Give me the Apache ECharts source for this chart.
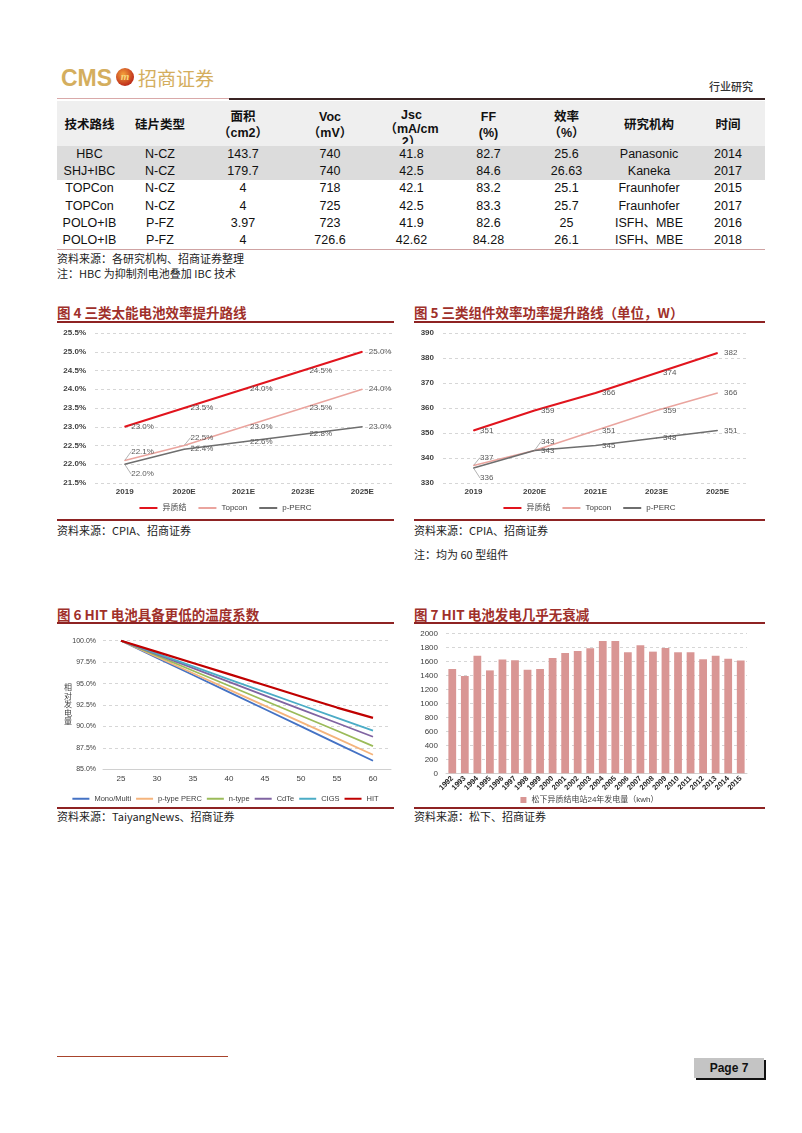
<!DOCTYPE html>
<html>
<head>
<meta charset="utf-8">
<title>行业研究 Page 7</title>
<script src="https://cdn.jsdelivr.net/npm/echarts@6.0.0/dist/echarts.min.js"></script>
<style>
body { margin: 0; background: #fff; font-family: "Liberation Sans", "Noto Sans CJK SC", sans-serif; }
.page { position: relative; width: 802px; height: 1133px; overflow: hidden; }
.abs { position: absolute; }
.cms { left: 61px; top: 65px; font: bold 23px "Liberation Sans Narrow", "Liberation Sans", sans-serif; color: #d4ae5e; }
.badge { left: 116px; top: 68px; width: 18px; height: 18px; border-radius: 50%; background: radial-gradient(circle at 40% 35%, #f4a13a, #c0301c 70%, #8a1a10); color: #f7d77a; font: italic bold 11px "Liberation Serif", serif; text-align: center; line-height: 17px; }
.zs { left: 138px; top: 64px; font: 19px "Noto Sans CJK SC", sans-serif; color: #d4ae5e; }
.hy { left: 709px; top: 78px; font: 500 11px "Noto Sans CJK SC", sans-serif; color: #333; }
table { border-collapse: collapse; table-layout: fixed; font-size: 12.5px; color: #111; }
td { padding: 0; text-align: center; white-space: nowrap; }
thead td { height: 45px; background: #efefef; font-weight: bold; line-height: 16px; padding-top: 3px; box-sizing: border-box; }
tbody td { height: 17.2px; line-height: 17.2px; }
tbody tr.g td { background: #dcdcdc; }
.src { font: 11px "Noto Sans CJK SC", sans-serif; color: #222; }
.ttl { font: bold 13.5px "Noto Sans CJK SC", sans-serif; color: #a0302a; }
.rule { height: 2px; background: #8e2323; }
.chart { position: absolute; }
.pagebox { left: 694px; top: 1058px; width: 70px; height: 20px; background: #c4c4c4; box-shadow: 2px 2px 0 #111; font: bold 12px "Liberation Sans Narrow", "Liberation Sans", sans-serif; text-align: center; line-height: 20px; color: #111; }
</style>
</head>
<body>
<div class="page">
  <div class="abs cms">CMS</div>
  <div class="abs badge">m</div>
  <div class="abs zs">招商证券</div>
  <div class="abs hy">行业研究</div>
  <div class="abs" style="left:57px;top:98px;width:172px;height:1px;background:#d9a9a9"></div>
  <div class="abs" style="left:229px;top:98px;width:536px;height:2px;background:#3a2424"></div>

  <table class="abs" id="tbl" style="left:57px;top:101px;width:708px">
    <colgroup>
      <col style="width:65px"><col style="width:76px"><col style="width:90px"><col style="width:84px"><col style="width:79px">
      <col style="width:75px"><col style="width:81px"><col style="width:84px"><col style="width:74px">
    </colgroup>
    <thead>
      <tr>
        <td>技术路线</td><td>硅片类型</td><td>面积<br>（cm2）</td><td>Voc<br>（mV）</td>
        <td style="padding-top:0;vertical-align:top"><div style="height:43px;overflow:hidden;line-height:13.5px;padding-top:8px;box-sizing:border-box">Jsc<br>（mA/cm<br>2）</div></td>
        <td>FF<br>(%)</td><td>效率<br>（%）</td><td>研究机构</td><td>时间</td>
      </tr>
    </thead>
    <tbody id="tbody"></tbody>
  </table>
  <div class="abs" style="left:57px;top:249px;width:708px;height:1px;background:#cfa3a3"></div>
  <div class="abs src" style="left:57px;top:250px">资料来源：各研究机构、招商证券整理</div>
  <div class="abs src" style="left:57px;top:265px">注：HBC 为抑制剂电池叠加 IBC 技术</div>

  <div class="abs ttl" style="left:57px;top:302px">图 4 三类太能电池效率提升路线</div>
  <div class="abs rule" style="left:57px;top:321px;width:337px"></div>
  <div class="chart" id="c4" style="left:57px;top:325px;width:337px;height:194px"></div>
  <div class="abs rule" style="left:57px;top:519px;width:337px"></div>
  <div class="abs src" style="left:57px;top:522px">资料来源：CPIA、招商证券</div>

  <div class="abs ttl" style="left:414px;top:302px">图 5 三类组件效率功率提升路线（单位，W）</div>
  <div class="abs rule" style="left:414px;top:321px;width:351px"></div>
  <div class="chart" id="c5" style="left:414px;top:325px;width:351px;height:194px"></div>
  <div class="abs rule" style="left:414px;top:519px;width:351px"></div>
  <div class="abs src" style="left:414px;top:522px">资料来源：CPIA、招商证券</div>
  <div class="abs src" style="left:414px;top:546px">注：均为 60 型组件</div>

  <div class="abs ttl" style="left:57px;top:604px">图 6 HIT 电池具备更低的温度系数</div>
  <div class="abs rule" style="left:57px;top:622px;width:337px"></div>
  <div class="chart" id="c6" style="left:57px;top:625px;width:337px;height:182px"></div>
  <div class="abs rule" style="left:57px;top:807px;width:337px"></div>
  <div class="abs src" style="left:57px;top:808px">资料来源：TaiyangNews、招商证券</div>

  <div class="abs ttl" style="left:414px;top:604px">图 7 HIT 电池发电几乎无衰减</div>
  <div class="abs rule" style="left:414px;top:622px;width:351px"></div>
  <div class="chart" id="c7" style="left:414px;top:625px;width:351px;height:182px"></div>
  <div class="abs rule" style="left:414px;top:807px;width:351px"></div>
  <div class="abs src" style="left:414px;top:808px">资料来源：松下、招商证券</div>

  <div class="abs" style="left:57px;top:1056px;width:171px;height:1px;background:#a8442c"></div>
  <div class="abs pagebox">Page 7</div>
</div>

<script>
// table rows
const tableRows = [
  ['HBC', 'N-CZ', '143.7', '740', '41.8', '82.7', '25.6', 'Panasonic', '2014'],
  ['SHJ+IBC', 'N-CZ', '179.7', '740', '42.5', '84.6', '26.63', 'Kaneka', '2017'],
  ['TOPCon', 'N-CZ', '4', '718', '42.1', '83.2', '25.1', 'Fraunhofer', '2015'],
  ['TOPCon', 'N-CZ', '4', '725', '42.5', '83.3', '25.7', 'Fraunhofer', '2017'],
  ['POLO+IB', 'P-FZ', '3.97', '723', '41.9', '82.6', '25', 'ISFH、MBE', '2016'],
  ['POLO+IB', 'P-FZ', '4', '726.6', '42.62', '84.28', '26.1', 'ISFH、MBE', '2018'],
];

// fig 4 / fig 5
const routeYears = ['2019', '2020E', '2021E', '2023E', '2025E'];
const hjtEff = [23.0, 23.5, 24.0, 24.5, 25.0];
const topconEff = [22.1, 22.5, 23.0, 23.5, 24.0];
const percEff = [22.0, 22.4, 22.6, 22.8, 23.0];
const hjtPower = [351, 359, 366, 374, 382];
const topconPower = [337, 343, 351, 359, 366];
const percPower = [336, 343, 345, 348, 351];

// fig 6
const temps = ['25', '30', '35', '40', '45', '50', '55', '60'];
const monoMulti = [100, 98.0, 96.0, 94.0, 92.0, 90.0, 88.0, 86.0];
const pPerc = [100, 98.1, 96.2, 94.3, 92.4, 90.5, 88.6, 86.7];
const nType = [100, 98.25, 96.5, 94.75, 93.0, 91.25, 89.5, 87.7];
const cdte = [100, 98.4, 96.8, 95.2, 93.6, 92.0, 90.4, 88.8];
const cigs = [100, 98.5, 97.0, 95.5, 94.0, 92.5, 91.0, 89.5];
const hit = [100, 98.7, 97.4, 96.1, 94.8, 93.5, 92.2, 91.0];

// fig 7
const hitYears = ['1992', '1993', '1994', '1995', '1996', '1997', '1998', '1999', '2000', '2001', '2002', '2003',
  '2004', '2005', '2006', '2007', '2008', '2009', '2010', '2011', '2012', '2013', '2014', '2015'];
const hitOutput = [1490, 1390, 1680, 1470, 1625, 1615, 1480, 1490, 1648, 1719, 1748, 1786,
  1890, 1890, 1729, 1829, 1738, 1790, 1729, 1729, 1629, 1681, 1638, 1610];

const tbody = document.getElementById('tbody');
tableRows.forEach((row, i) => {
  const tr = document.createElement('tr');
  if (i < 2) tr.className = 'g';
  row.forEach((cell) => {
    const td = document.createElement('td');
    td.textContent = cell;
    tr.appendChild(td);
  });
  tbody.appendChild(tr);
});

const FONT = '"Liberation Sans", "Noto Sans CJK SC", sans-serif';
const gridLine = { show: true, lineStyle: { color: '#d6d6d6', type: [3, 3], width: 1 } };

// moved: label dy offsets for labels pulled off the line (with leader line)
function routeSeries(name, data, color, width, moved, fmt) {
  return {
    name,
    type: 'line',
    symbol: 'circle',
    symbolSize: 1,
    data: data.map((v, i) => (moved[i] ? { value: v, labelLine: { show: true } } : v)),
    lineStyle: { color, width },
    itemStyle: { color },
    label: { show: true, position: 'right', distance: 6, color: '#595959', fontSize: 8, fontFamily: FONT, formatter: fmt },
    labelLayout: (p) => (moved[p.dataIndex] ? { dy: moved[p.dataIndex] } : {}),
    labelLine: { show: false, lineStyle: { color: '#a0a0a0', width: 0.8 } },
  };
}

function routeOption(gridLeft, gridWidth, yMin, yMax, yStep, yFmt, series) {
  return {
    animation: false,
    textStyle: { fontFamily: FONT },
    grid: { left: gridLeft, top: 8, width: gridWidth, height: 150 },
    legend: {
      top: 174, left: 'center', icon: 'rect', itemWidth: 18, itemHeight: 2, itemGap: 12,
      textStyle: { fontSize: 8, color: '#404040' },
      data: ['异质结', 'Topcon', 'p-PERC'],
    },
    xAxis: {
      type: 'category', data: routeYears, boundaryGap: true,
      axisLine: { show: false }, axisTick: { show: false },
      axisLabel: { fontSize: 8, fontWeight: 'bold', color: '#404040', margin: 5 },
    },
    yAxis: {
      type: 'value', min: yMin, max: yMax, interval: yStep,
      axisLine: { show: false }, axisTick: { show: false }, splitLine: gridLine,
      axisLabel: { fontSize: 8, fontWeight: 'bold', color: '#404040', margin: 9, formatter: yFmt },
    },
    series,
  };
}

const pct = (p) => p.value.toFixed(1) + '%';
const plain = (p) => String(p.value);

const c4 = echarts.init(document.getElementById('c4'));
c4.setOption(routeOption(38, 297, 21.5, 25.5, 0.5, (v) => v.toFixed(1) + '%', [
  routeSeries('Topcon', topconEff, '#eaa49e', 1.5, [-9, -8, 0, 0, 0], pct),
  routeSeries('p-PERC', percEff, '#6e6e6e', 1.5, [10, 0, 0, 0, 0], pct),
  routeSeries('异质结', hjtEff, '#e1141d', 2, [0, 0, 0, 0, 0], pct),
]));

const c5 = echarts.init(document.getElementById('c5'));
c5.setOption(routeOption(29, 305, 330, 390, 10, (v) => String(v), [
  routeSeries('Topcon', topconPower, '#eaa49e', 1.5, [-8, -9, 0, 0, 0], plain),
  routeSeries('p-PERC', percPower, '#6e6e6e', 1.5, [10, 0, 0, 0, 0], plain),
  routeSeries('异质结', hjtPower, '#e1141d', 2, [0, 0, 0, 0, 0], plain),
]));

const tempSeries = [
  ['Mono/Multi', monoMulti, '#4472c4'],
  ['p-type PERC', pPerc, '#f5b47c'],
  ['n-type', nType, '#9bbb59'],
  ['CdTe', cdte, '#8064a2'],
  ['CIGS', cigs, '#4bacc6'],
  ['HIT', hit, '#c00000'],
];

const c6 = echarts.init(document.getElementById('c6'));
c6.setOption({
  animation: false,
  textStyle: { fontFamily: FONT },
  grid: { left: 46, top: 15.7, width: 288, height: 128.6 },
  legend: {
    top: 165, left: 'center', icon: 'rect', itemWidth: 17, itemHeight: 2, itemGap: 5,
    textStyle: { fontSize: 7.5, color: '#404040' },
    data: tempSeries.map((s) => s[0]),
  },
  graphic: [{
    type: 'text', left: 7, top: 58,
    style: { text: '相\n对\n发\n电\n量', fontSize: 8, lineHeight: 8.5, fill: '#404040', fontFamily: '"Noto Sans CJK SC", sans-serif' },
  }],
  xAxis: {
    type: 'category', data: temps, boundaryGap: true,
    axisLine: { show: true, lineStyle: { color: '#d0d0d0' } }, axisTick: { show: false },
    axisLabel: { fontSize: 8, color: '#404040', margin: 5 },
  },
  yAxis: {
    type: 'value', min: 85, max: 100, interval: 2.5,
    axisLine: { show: false }, axisTick: { show: false }, splitLine: gridLine,
    axisLabel: { fontSize: 7, color: '#404040', margin: 7, formatter: (v) => v.toFixed(1) + '%' },
  },
  series: tempSeries.map(([name, data, color]) => ({
    name, type: 'line', symbol: 'none', data,
    lineStyle: { color, width: name === 'HIT' ? 2.2 : 1.8 }, itemStyle: { color },
  })),
});

const c7 = echarts.init(document.getElementById('c7'));
c7.setOption({
  animation: false,
  textStyle: { fontFamily: FONT },
  grid: { left: 32, top: 8.3, width: 301, height: 140 },
  legend: {
    top: 166, left: 'center', icon: 'rect', itemWidth: 6, itemHeight: 6, itemGap: 6,
    textStyle: { fontSize: 8, color: '#404040' },
  },
  xAxis: {
    type: 'category', data: hitYears,
    axisLine: { show: true, lineStyle: { color: '#d0d0d0' } }, axisTick: { show: false },
    axisLabel: { fontSize: 7.5, fontWeight: 'bold', color: '#262626', rotate: 45, interval: 0, margin: 4 },
  },
  yAxis: {
    type: 'value', min: 0, max: 2000, interval: 200,
    axisLine: { show: false }, axisTick: { show: false }, splitLine: gridLine,
    axisLabel: { fontSize: 8, color: '#404040', margin: 8, formatter: (v) => String(v) },
  },
  series: [{
    name: '松下异质结电站24年发电量（kwh）', type: 'bar', data: hitOutput,
    barCategoryGap: '38%', itemStyle: { color: '#d99694' },
  }],
});
</script>
</body>
</html>
